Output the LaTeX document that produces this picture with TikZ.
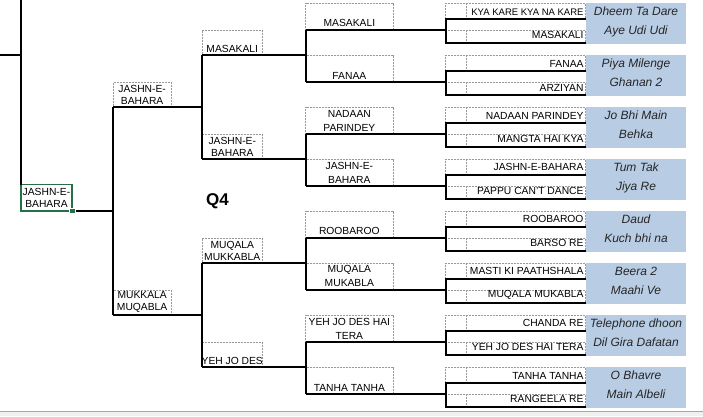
\documentclass[tikz,border=0pt]{standalone}
\usepackage{fontspec}
\setmainfont{Liberation Sans}
\definecolor{songblue}{RGB}{184,204,228}
\definecolor{selgreen}{RGB}{33,115,70}

\begin{document}
\begin{tikzpicture}[x=1pt,y=-1pt,
    cell/.style={draw=black!40,dash pattern=on 2pt off 1pt,line width=.8pt,
      inner sep=0,outer sep=0,anchor=north west},
    win/.style={line width=2pt},
    lbl/.style={font=\fontsize{10.3}{12}\selectfont,inner sep=0,outer sep=0,align=center},
    song/.style={fill=songblue,inner sep=0,outer sep=0,anchor=north west,
      minimum width=100,minimum height=41.5},
    songtxt/.style={font=\itshape\fontsize{12}{12}\selectfont,text=black!85,
      inner sep=0,anchor=base}]
  \useasboundingbox (0,0) rectangle (703,416);
  % sheet tab bar
  \fill[black!6] (0,411) rectangle (703,416);
  \draw[black!35] (0,410.7) -- (703,410.7);

  % last sixteen
  \foreach \i/\ta/\tb/\sa/\sb in {1/{\fontsize{9.5}{12}\selectfont KYA KARE KYA NA KARE}/MASAKALI/Dheem Ta Dare/Aye Udi Udi,
      2/FANAA/ARZIYAN/Piya Milenge/Ghanan 2,
      3/NADAAN PARINDEY/MANGTA HAI KYA/Jo Bhi Main/Behka,
      4/JASHN-E-BAHARA/PAPPU CAN'T DANCE/Tum Tak/Jiya Re,
      5/ROOBAROO/BARSO RE/Daud/Kuch bhi na,
      6/MASTI KI PAATHSHALA/MUQALA MUKABLA/Beera 2/Maahi Ve,
      7/CHANDA RE/YEH JO DES HAI TERA/Telephone dhoon/Dil Gira Dafatan,
      8/TANHA TANHA/RANGEELA RE/O Bhavre/Main Albeli}{
    \pgfmathsetmacro\dy{52*(\i-1)}
    \node[cell,minimum width=139.7,minimum height=16] (r5-\i t) at (445.8,3+\dy) {};
    \node[cell,minimum width=139.7,minimum height=13] (r5-\i b) at (445.8,30+\dy) {};
    \draw[cell] ([xshift=20.5]r5-\i t.north west) -- ([xshift=20.5]r5-\i t.south west);
    \draw[cell] ([xshift=20.5]r5-\i b.north west) -- ([xshift=20.5]r5-\i b.south west);
    \node[lbl,anchor=south east] (t5-\i t) at ([xshift=-2,yshift=4]r5-\i t.south east) {\ta};
    \node[lbl,anchor=south east] (t5-\i b) at ([xshift=-2,yshift=4]r5-\i b.south east) {\tb};
    \draw[win] (r5-\i t.south east) -- (r5-\i t.south west)
      -- (r5-\i b.south west) -- (r5-\i b.south east);
    \node[song] (song\i) at (586,2.5+\dy) {};
    \node[songtxt] (song\i t) at ([yshift=-12.8]song\i.north) {\sa};
    \node[songtxt] (song\i b) at ([yshift=-32.3]song\i.north) {\sb};
  }

  % quarter final
  \foreach \k/\t in {1/MASAKALI,2/FANAA,3/NADAAN\\PARINDEY,4/JASHN-E-\\BAHARA,
      5/ROOBAROO,6/MUQALA\\MUKABLA,7/YEH JO DES HAI\\TERA,8/TANHA TANHA}{
    \pgfmathsetmacro\dy{52*(\k-1)}
    \node[cell,minimum width=87.3,minimum height=27] (r4-\k) at (305.7,3+\dy) {};
    \node[lbl,font=\fontsize{10.3}{14}\selectfont,anchor=south] (t4-\k)
      at ([yshift=3]r4-\k.south) {\t};
    \draw[win] (r4-\k.south west) -- (r4-\k.south west -| r5-\k t.west);
  }
  \foreach \k/\l in {1/2,3/4,5/6,7/8}
    \draw[win] (r4-\k.south west) -- (r4-\l.south west);

  % semi final
  \foreach \j/\t/\k in {1/MASAKALI/1,2/JASHN-E-\\BAHARA/3,3/MUQALA\\MUKKABLA/5,4/YEH JO DES/7}{
    \pgfmathsetmacro\dy{104*(\j-1)}
    \node[cell,minimum width=60.5,minimum height=25] (r3-\j) at (202,30+\dy) {};
    \node[lbl,anchor=south] (t3-\j) at ([yshift=2.5]r3-\j.south) {\t};
    \draw[win] (r3-\j.south west) -- (r3-\j.south west -| r4-\k.west);
  }
  \foreach \j/\l in {1/2,3/4}
    \draw[win] (r3-\j.south west) -- (r3-\l.south west);

  % final
  \foreach \m/\t/\j in {1/JASHN-E-\\BAHARA/1,2/MUKKALA\\MUQABLA/3}{
    \pgfmathsetmacro\dy{208*(\m-1)}
    \node[cell,minimum width=57.7,minimum height=25] (r2-\m) at (113.3,82+\dy) {};
    \node[lbl,anchor=south] (t2-\m) at ([yshift=2.5]r2-\m.south) {\t};
    \draw[win] (r2-\m.south west) -- (r2-\m.south west -| r3-\j.west);
  }
  \draw[win] (r2-1.south west) -- (r2-2.south west);

  % winner (selected cell)
  \coordinate (top) at (20.7,0);
  \coordinate (prev) at (0,54.5);
  \node[draw=selgreen,line width=1.8pt,inner sep=0,outer sep=0,anchor=north west,
    minimum width=51.5,minimum height=26.5,align=center,
    font=\fontsize{10.3}{11.7}\selectfont] (r1) at (20.7,184.5) {JASHN-E-\\BAHARA};
  \draw[win] (top) -- (r1.north west);
  \draw[win] (prev) -- (prev -| top);
  \draw[win] (r1.south east) -- (r1.south east -| r2-1.west);
  \node[fill=selgreen,draw=white,line width=.8pt,inner sep=0,minimum size=5.5]
    (grip) at (r1.south east) {};

  \node[font=\bfseries\fontsize{17}{17}\selectfont,anchor=base] (qtr) at (217.5,205) {Q4};
\end{tikzpicture}
\end{document}
